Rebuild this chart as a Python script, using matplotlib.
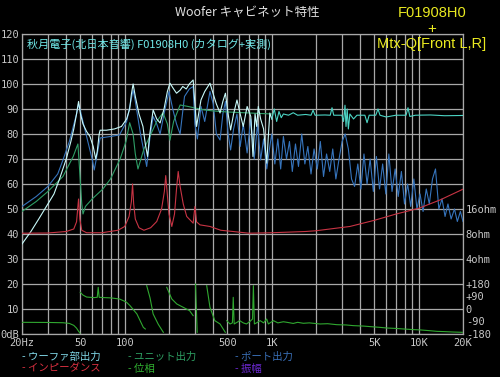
import numpy as np
import matplotlib
matplotlib.use('Agg')
import matplotlib.pyplot as plt
from matplotlib.ticker import NullLocator

# ---------------- data ----------------
# Woofer section output (total), dB
total_freq = [20, 23, 26, 30, 33, 36, 40, 43, 45, 47, 48.5, 50, 52, 55, 58, 61, 63.5, 65, 67, 68,
              75, 85, 95, 103, 108, 111, 114, 118, 125, 133, 138, 143, 148, 156, 165, 174, 185,
              195, 203, 215, 225, 238, 248, 262, 275, 292, 300, 308, 318, 330, 350, 380, 400,
              420, 445, 465, 484, 505, 525, 550, 580, 610, 640, 680, 720, 745, 770, 790, 810,
              840, 880, 925, 950, 970, 1000,
              1040, 1080, 1120, 1160, 1200, 1300, 1400, 1500, 1700, 1850, 1910, 1970, 2300,
              2500, 2570, 2640, 3000, 3080, 3150, 3200, 3260, 3320, 3400, 3600, 3800, 4300,
              4450, 4600, 5100, 5280, 5450, 6000, 7000, 8200, 8450, 8700, 9500, 12000, 15000,
              20000]
total_db = [36, 41, 46, 52, 56, 62, 70, 77, 82, 88, 93, 88, 84, 81, 79, 75, 70, 73, 80, 81.5,
            81.5, 82, 83, 86, 90, 96, 100, 95, 88, 83, 76, 71, 80, 89.6, 86, 84.4, 90,
            97, 100.3, 98, 96.3, 97.5, 99, 98, 100, 101.6, 92, 83, 88, 93.6, 97, 100.3, 96,
            92, 88.4, 93, 96.3, 88, 81.6, 88, 93.6, 88, 83, 91, 87, 71, 88, 83, 91,
            86, 82, 68.3, 80, 88.4, 86,
            90, 85, 89, 86.5, 88, 87.5, 88.5, 87.5, 87.8, 87.5, 89.5, 87.5, 87.6,
            87.5, 90.5, 87.5, 87.5, 85, 91.5, 83, 90, 82, 88, 86, 87.5, 87.5,
            84.5, 87.5, 87.5, 90, 87.5, 86.8, 87.5, 87.5, 90.5, 87, 87.5, 87.6, 87.3,
            87.4]

# Unit output, dB
unit_freq = [20, 25, 30, 38, 44.6, 48, 49.5, 51, 52, 54, 60, 71, 80, 93, 102, 108, 114, 118,
             123, 135, 148, 165, 182, 195, 203, 215, 238, 270, 300, 350, 400, 500, 700, 1000]
unit_db = [49, 53, 57, 63, 71, 76, 64, 52, 48, 51, 54, 58, 62, 70, 77, 84.5, 80, 72,
           66, 74, 79, 85, 88.5, 84, 77.5, 85, 91.6, 91, 90.4, 89.6, 89.2, 88.8, 88.4, 88]

# Port output, dB
port_freq = [20, 25, 30, 35, 38, 42, 47, 48.5, 50, 55, 60, 62, 65, 68, 80, 92, 103, 110, 114,
             118, 128, 136, 141, 148, 156, 165, 174, 185, 200, 212, 225, 238, 255, 275, 292,
             300, 312, 330, 350, 380, 400, 420, 445, 465, 484, 505, 525, 550, 580, 610, 640,
             680, 720, 760, 800, 840, 880, 925, 970, 1000,
             1050, 1100, 1150, 1200, 1260, 1320, 1380, 1450, 1520, 1600, 1680, 1760, 1850,
             1940, 2040, 2140, 2250, 2360, 2480, 2600, 2730, 2870, 3010, 3160, 3320, 3490,
             3660, 3850, 4040, 4240, 4450, 4670, 4910, 5150, 5410, 5680, 5970, 6260, 6580,
             6910, 7250, 7620, 8000, 8400, 8820, 9260, 9720, 10200, 10700, 11250, 11800,
             12400, 13000, 13700, 14400, 15100, 15800, 16600, 17500, 18300, 19200, 20000]
port_db = [51, 55, 59, 64, 69.6, 77, 88, 92, 89, 79, 70, 65.6, 72, 78.4, 79, 79.6, 85, 93, 97.6,
           93, 80, 72, 67, 78, 87, 84, 80, 88, 97, 90, 84, 80, 95, 98, 99,
           84, 78, 91, 85, 97, 92, 80, 77.6, 88, 93, 80, 73.6, 82, 88, 75, 84,
           72.4, 86, 70, 84, 69.6, 78, 66, 75, 80,
           68, 78, 66, 79, 70, 77, 65, 76, 67, 80, 68, 75, 64,
           74, 66, 77, 63, 72, 65, 74, 62, 70, 77, 80, 74, 62,
           59, 68, 58, 72, 60, 70, 57, 71, 58, 68, 56, 72, 57,
           66, 55, 65, 52, 60, 51, 62, 50, 56, 49, 58, 52,
           62, 66, 50, 54, 47, 52, 46, 50, 45, 49, 45]

# Impedance, ohm
imp_freq = [20, 30, 40, 45, 47, 48.5, 49.5, 51, 55, 70, 90, 100, 107, 111, 113, 115, 118, 125,
            135, 150, 165, 178, 186, 190, 194, 200, 209, 218, 225, 231, 238, 250, 264, 292,
            300, 308, 325, 380, 450, 545, 700, 1000, 1700, 2000, 3400, 5000, 7000, 10000,
            14000, 20000]
imp_ohm = [8.17, 8.22, 8.57, 9.19, 11.2, 21.1, 12.1, 8.87, 8.28, 8.28, 8.87, 9.85, 13.0, 19.7,
           32, 18.4, 12.1, 9.51, 8.87, 9.51, 11.3, 16, 26, 40.4, 26, 13.9, 9.85, 13.9, 27.9,
           45.3, 29.9, 18.4, 13.0, 10.8, 17.1, 11.2, 10.3, 9.85, 8.87, 8.57, 8.17, 8.28,
           8.57, 8.75, 9.85, 11.7, 13.9, 16.3, 20.6, 27.7]

# Phase, degrees (nan = wrap break)
nan = float('nan')
phase_freq = [20, 30, 38, 42, 45, 47, 48.5, 49.6, 49.7,
              49.8, 52, 55, 58, 62, 65, 66, 67, 72, 80, 92, 100, 103, 108.6, 121, 128, 133.7, 138, 139,
              141, 148.6, 156, 169, 183, 188,
              193, 209, 226, 250, 276, 292, 296,
              303, 311, 330,
              361, 380, 410, 445, 483, 488,
              494, 520, 540, 547, 555, 580, 605, 640, 673, 710, 740, 750, 762, 800, 834, 880,
              924, 948, 1000, 1027, 1100, 1200, 1270, 1400, 1500, 1640, 1800, 2130, 2400,
              2770, 3200, 3600, 4200, 4680, 5400, 6080, 7000, 7900, 9000, 10300, 11800,
              13300, 15000, 17300, 19800]
phase_deg = [-96, -97, -99, -104, -118, -138, -160, -173, nan,
             120, 100, 86, 84, 82, 84, 156, 84, 82, 80, 72, 55, 48, 24, -36, -90, -132, -144, nan,
             168, 80, -36, -110, -168, nan,
             156, 72, 36, 12, -12, -48, nan,
             180, -168, nan,
             168, 12, -84, -108, -168, nan,
             -84, -108, -100, 84, -108, -96, -84, -100, -108, -90, -72, 168, -108, -96, -84, -100,
             -72, -108, -92, -84, -100, -92, -96, -104, -96, -103, -100, -108, -106,
             -113, -115, -120, -123, -127, -132, -137, -140, -144, -148, -151, -156,
             -161, -163, -166, -168]

x_grid = [20, 30, 40, 50, 60, 70, 80, 90, 100, 200, 300, 400, 500, 600, 700, 800, 900,
          1000, 2000, 3000, 4000, 5000, 6000, 7000, 8000, 9000, 10000, 20000]
x_labels = {20: '20Hz', 50: '50', 100: '100', 500: '500', 1000: '1K', 5000: '5K',
            10000: '10K', 20000: '20K'}
y_ticks = list(range(0, 121, 10))
imp_ticks = [4, 8, 16]
imp_labels = ['4ohm', '8ohm', '16ohm']
phase_ticks = [-180, -90, 0, 90, 180]
phase_labels = ['-180', '-90', '0', '+90', '+180']

legend_items = [('- ウーファ部出力', '#80d8e8'), ('- ユニット出力', '#2e9e62'), ('- ポート出力', '#3a70b8'),
                ('- インピーダンス', '#d83040'), ('- 位相', '#30b030'), ('- 振幅', '#6a28d0')]

# ---------------- figure ----------------
GRID = '#a8a8a8'
TXT = '#c8c8c8'
MONO = 'DejaVu Sans Mono'
CJK = ['Noto Sans CJK JP', 'DejaVu Sans']

fig = plt.figure(figsize=(5, 3.77), dpi=100, facecolor='black')
ax = fig.add_axes([0.044, 0.1141, 0.882, 0.7958])
ax.set_facecolor('black')
ax.set_xscale('log')
ax.set_xlim(20, 20000)
ax.set_ylim(0, 120)
ax.set_xticks(x_grid)
ax.set_xticklabels([x_labels.get(f, '') for f in x_grid])
ax.xaxis.set_minor_locator(NullLocator())
ax.set_yticks(y_ticks)
ax.set_yticklabels(['0dB' if v == 0 else str(v) for v in y_ticks])
ax.grid(True, color=GRID, lw=0.9)
ax.tick_params(axis='both', length=0, colors=TXT, labelsize=7.5)
ax.tick_params(axis='x', pad=3)
ax.tick_params(axis='y', pad=2)
for lab in ax.get_xticklabels() + ax.get_yticklabels():
    lab.set_fontfamily(MONO)
for s in ax.spines.values():
    s.set_color(GRID)
    s.set_linewidth(0.9)

tf = np.array(total_freq)
td = np.array(total_db)
pf = np.array(port_freq)
pdb = np.array(port_db)

ax.plot(pf, pdb, color='#3674bc', lw=0.8, zorder=3)
ax.plot(unit_freq, unit_db, color='#2e9e66', lw=0.8, zorder=4)
m_lo = tf <= 1000
m_hi = tf >= 1000
ax.plot(tf[m_lo], td[m_lo], color='#c8fafa', lw=0.8, zorder=5)
ax.plot(tf[m_hi], td[m_hi], color='#4cd4c4', lw=0.8, zorder=5)

# impedance axis (right)
az = ax.twinx()
az.set_yscale('log', base=2)
az.set_ylim(0.5, 2048)
az.set_yticks(imp_ticks)
az.set_yticklabels(imp_labels)
az.yaxis.set_minor_locator(NullLocator())
az.tick_params(axis='y', length=0, colors=TXT, labelsize=7.5, pad=2)
for lab in az.get_yticklabels():
    lab.set_fontfamily(MONO)
az.patch.set_visible(False)
for s in az.spines.values():
    s.set_visible(False)
az.plot(imp_freq, imp_ohm, color='#c83444', lw=0.8)

# phase axis (right)
ap = ax.twinx()
ap.set_ylim(-180, 1980)
ap.set_yticks(phase_ticks)
ap.set_yticklabels(phase_labels)
ap.tick_params(axis='y', length=0, colors=TXT, labelsize=7.5, pad=2)
for lab in ap.get_yticklabels():
    lab.set_fontfamily(MONO)
ap.patch.set_visible(False)
for s in ap.spines.values():
    s.set_visible(False)
ap.plot(phase_freq, phase_deg, color='#30a830', lw=0.8)
ax.set_xlim(20, 20000)

# texts
fig.text(0.494, 0.968, 'Woofer キャビネット特性', color='#e0e0e0', fontsize=9,
         family=CJK, ha='center', va='center')
fig.text(0.054, 0.883, '秋月電子(北日本音響) F01908H0 (カタログ+実測)', color='#70e8e8',
         fontsize=8, family=CJK, ha='left', va='center')
fig.text(0.864, 0.9655, 'F01908H0', color='#eaea20', fontsize=10.5,
         family='Liberation Sans', ha='center', va='center')
fig.text(0.864, 0.923, '+', color='#eaea20', fontsize=11,
         family='Liberation Sans', ha='center', va='center')
fig.text(0.864, 0.883, 'Mtx-Q[Front L,R]', color='#eaea20', fontsize=10.5,
         family='Liberation Sans', ha='center', va='center')

cols = [0.044, 0.256, 0.47]
rows = [0.0544, 0.0225]
for i, (txt, c) in enumerate(legend_items):
    fig.text(cols[i % 3], rows[i // 3], txt, color=c, fontsize=7.5, family=CJK,
             ha='left', va='center')

fig.savefig('out.png', dpi=100, facecolor='black')
